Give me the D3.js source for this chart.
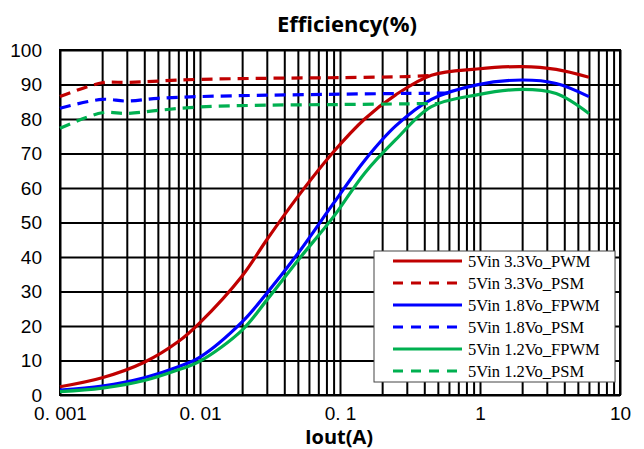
<!DOCTYPE html>
<html>
<head>
<meta charset="utf-8">
<script src="https://cdn.jsdelivr.net/npm/d3@7"></script>
<style>
  body { margin: 0; background: #fff; }
</style>
</head>
<body>
<script>
// data
const seriesNames = ["5Vin 3.3Vo_PWM", "5Vin 3.3Vo_PSM", "5Vin 1.8Vo_FPWM", "5Vin 1.8Vo_PSM", "5Vin 1.2Vo_FPWM", "5Vin 1.2Vo_PSM"]
const seriesColors = ["#c00000", "#c00000", "#0000ff", "#0000ff", "#00b050", "#00b050"]
const seriesDashed = [false, true, false, true, false, true]

const iout_pwm = [0.001, 0.002, 0.004, 0.007, 0.01, 0.02, 0.03, 0.05, 0.09, 0.15, 0.25, 0.45, 0.95, 2, 3.5, 6]
const eff33_pwm = [2.4, 5, 9.5, 15.5, 21, 34.5, 45, 57.5, 70.5, 80, 87, 92.7, 94.5, 95.2, 94.4, 92.1]
const eff18_pwm = [1.4, 2.6, 5, 8.2, 11, 21.2, 29.5, 41, 55.6, 68, 78, 85.7, 89.9, 91.3, 90.3, 86.5]
const eff12_pwm = [1, 2, 4.2, 7.3, 9.8, 18.8, 27.5, 39, 51.7, 64.3, 74, 83.6, 87, 88.6, 87.4, 81.6]

const iout_psm33 = [0.001, 0.002, 0.003, 0.005, 0.01, 0.03, 0.1, 0.3, 0.45]
const eff33_psm = [86.5, 90.5, 90.6, 91, 91.5, 91.8, 92, 92.3, 92.6]
const iout_psm18 = [0.001, 0.002, 0.003, 0.005, 0.01, 0.03, 0.1, 0.3, 0.6]
const eff18_psm = [83.1, 85.7, 85.2, 86, 86.5, 86.9, 87.2, 87.4, 87.5]
const iout_psm12 = [0.001, 0.002, 0.003, 0.005, 0.01, 0.03, 0.1, 0.3, 0.5]
const eff12_psm = [77.3, 81.8, 81.6, 82.5, 83.5, 84, 84.2, 84.4, 84.5]

const xTickValues = [0.001, 0.01, 0.1, 1, 10]
const xTickLabels = ["0. 001", "0. 01", "0. 1", "1", "10"]
const yTickValues = [0, 10, 20, 30, 40, 50, 60, 70, 80, 90, 100]

const series = [
  {x: iout_pwm, y: eff33_pwm},
  {x: iout_psm33, y: eff33_psm},
  {x: iout_pwm, y: eff18_pwm},
  {x: iout_psm18, y: eff18_psm},
  {x: iout_pwm, y: eff12_pwm},
  {x: iout_psm12, y: eff12_psm}
]

const W = 644, H = 449
const m = {left: 60, top: 50, right: 24, bottom: 54}
const w = W - m.left - m.right, h = H - m.top - m.bottom

const svg = d3.select("body")
              .append("svg")
              .attr("width", W)
              .attr("height", H)

const groupe = svg.append("g")
                  .attr("transform", `translate(${m.left},${m.top})`)

const xscale = d3.scaleLog()
                 .domain([0.001, 10])
                 .range([0, w])
const yscale = d3.scaleLinear()
                 .domain([0, 100])
                 .range([h, 0])

// grid (all minor decades)
const xgrid = groupe.append("g")
                    .call(d3.axisBottom(xscale).ticks(40).tickSize(h).tickFormat(""))
xgrid.select(".domain").remove()
xgrid.selectAll("line").attr("stroke", "#000").attr("stroke-width", 2)

const ygrid = groupe.append("g")
                    .call(d3.axisLeft(yscale).tickValues(yTickValues).tickSize(-w).tickFormat(""))
ygrid.select(".domain").remove()
ygrid.selectAll("line").attr("stroke", "#000").attr("stroke-width", 2)

groupe.append("rect")
      .attr("width", w).attr("height", h)
      .attr("fill", "none").attr("stroke", "#000").attr("stroke-width", 2)

// tick labels
const yaxis = groupe.append("g")
                    .call(d3.axisLeft(yscale).tickValues(yTickValues).tickSize(0).tickPadding(18))
yaxis.select(".domain").remove()
yaxis.selectAll("text").attr("font-family", "Liberation Sans").attr("font-size", 19).attr("fill", "#000")

const xaxis = groupe.append("g")
                    .attr("transform", `translate(0,${h})`)
                    .call(d3.axisBottom(xscale).tickValues(xTickValues).tickSize(0).tickPadding(12)
                            .tickFormat((d, i) => xTickLabels[i]))
xaxis.select(".domain").remove()
xaxis.selectAll("text").attr("font-family", "Liberation Sans").attr("font-size", 19).attr("fill", "#000")

// curves
const line = d3.line()
               .x(d => xscale(d[0]))
               .y(d => yscale(d[1]))
               .curve(d3.curveCatmullRom.alpha(0.5))

series.forEach((s, i) => {
  groupe.append("path")
        .datum(s.x.map((v, k) => [v, s.y[k]]))
        .attr("d", line)
        .attr("fill", "none")
        .attr("stroke", seriesColors[i])
        .attr("stroke-width", 3.2)
        .attr("stroke-dasharray", seriesDashed[i] ? "11,7" : null)
})

// legend
const leg = svg.append("g").attr("transform", "translate(374,251)")
leg.append("rect")
   .attr("width", 241).attr("height", 131)
   .attr("fill", "#fff").attr("stroke", "#444").attr("stroke-width", 1)

seriesNames.forEach((n, i) => {
  const yy = 10 + i * 22
  leg.append("line")
     .attr("x1", 19).attr("x2", 88).attr("y1", yy).attr("y2", yy)
     .attr("stroke", seriesColors[i]).attr("stroke-width", 3.2)
     .attr("stroke-dasharray", seriesDashed[i] ? "10,8" : null)
  leg.append("text")
     .attr("x", 94).attr("y", yy + 5.5)
     .text(n)
     .attr("font-family", "Liberation Serif")
     .attr("font-size", "16.5px")
})

svg.append("text")
   .attr("x", 347).attr("y", 32)
   .attr("text-anchor", "middle")
   .text("Efficiency(%)")
   .attr("font-family", "Open Sans")
   .attr("font-weight", "bold")
   .attr("font-size", "22px")

svg.append("text")
   .attr("x", 339).attr("y", 444)
   .attr("text-anchor", "middle")
   .text("Iout(A)")
   .attr("font-family", "Open Sans")
   .attr("font-weight", "bold")
   .attr("font-size", "20px")
</script>
</body>
</html>
